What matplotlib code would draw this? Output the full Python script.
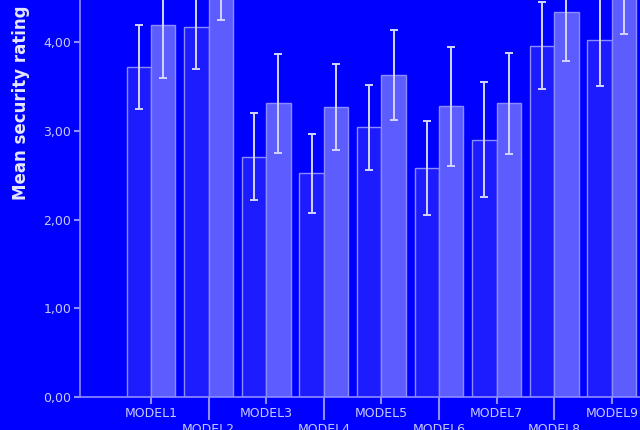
import numpy as np
import matplotlib
matplotlib.use("Agg")
import matplotlib.pyplot as plt
from matplotlib.ticker import FuncFormatter

# values (group A = darker bars, group B = lighter bars)
models = ["MODEL1", "MODEL2", "MODEL3", "MODEL4", "MODEL5",
          "MODEL6", "MODEL7", "MODEL8", "MODEL9"]
mean_a = [3.72, 4.17, 2.71, 2.52, 3.04, 2.58, 2.90, 3.96, 4.03]
err_a = [0.47, 0.47, 0.49, 0.44, 0.48, 0.53, 0.65, 0.49, 0.52]
mean_b = [4.19, 4.75, 3.31, 3.27, 3.63, 3.28, 3.31, 4.34, 4.60]
err_b = [0.59, 0.50, 0.56, 0.48, 0.51, 0.67, 0.57, 0.55, 0.51]

bg = "#0000ff"
edge = "#8c8cff"
light = "#c8c8ff"

fig = plt.figure(figsize=(6.4, 4.3), dpi=100, facecolor=bg)
ax = fig.add_axes([0.125, 1 - 397 / 430, 0.875, 397 / 430])
ax.set_facecolor(bg)

x = np.arange(len(models))
w = 0.425
ax.bar(x - w / 2, mean_a, w, color="#1c1cff", edgecolor=edge, linewidth=1, zorder=2)
ax.bar(x + w / 2, mean_b, w, color="#5c5cff", edgecolor=edge, linewidth=1, zorder=2)
ax.errorbar(x - w / 2, mean_a, yerr=err_a, fmt="none", ecolor="#d4d4ff",
            elinewidth=1.4, capsize=3, capthick=1.4, zorder=3)
ax.errorbar(x + w / 2, mean_b, yerr=err_b, fmt="none", ecolor="#d4d4ff",
            elinewidth=1.4, capsize=3, capthick=1.4, zorder=3)

ax.set_xlim(-1.233, 8.49)
ax.set_ylim(0, 4.476)

ax.set_yticks([0, 1, 2, 3, 4])
ax.yaxis.set_major_formatter(FuncFormatter(lambda v, p: f"{v:.2f}".replace(".", ",")))
ax.tick_params(axis="y", colors=edge, labelcolor=light, length=4.3, width=1.5,
               labelsize=9, pad=2)

# staggered category labels: odd models on major ticks, even on long minor ticks
ax.set_xticks(x[::2], [models[i] for i in x[::2]])
ax.set_xticks(x[1::2], [models[i] for i in x[1::2]], minor=True)
ax.tick_params(axis="x", which="major", colors=edge, labelcolor=light,
               length=5, width=1.5, labelsize=9, pad=2)
ax.tick_params(axis="x", which="minor", colors=edge, labelcolor=light,
               length=16.5, width=1.5, labelsize=9, pad=2)

for s in ["top", "right"]:
    ax.spines[s].set_visible(False)
for s in ["left", "bottom"]:
    ax.spines[s].set_color(edge)
    ax.spines[s].set_linewidth(1.2)

# the original axis was taller than this crop, so the label sits high
ax.set_ylabel("Mean security rating", color="#e6e6ff", fontsize=12,
              fontweight="bold")
ax.yaxis.set_label_coords(-0.089, 0.74)

fig.savefig("out.png", dpi=100, facecolor=bg)
